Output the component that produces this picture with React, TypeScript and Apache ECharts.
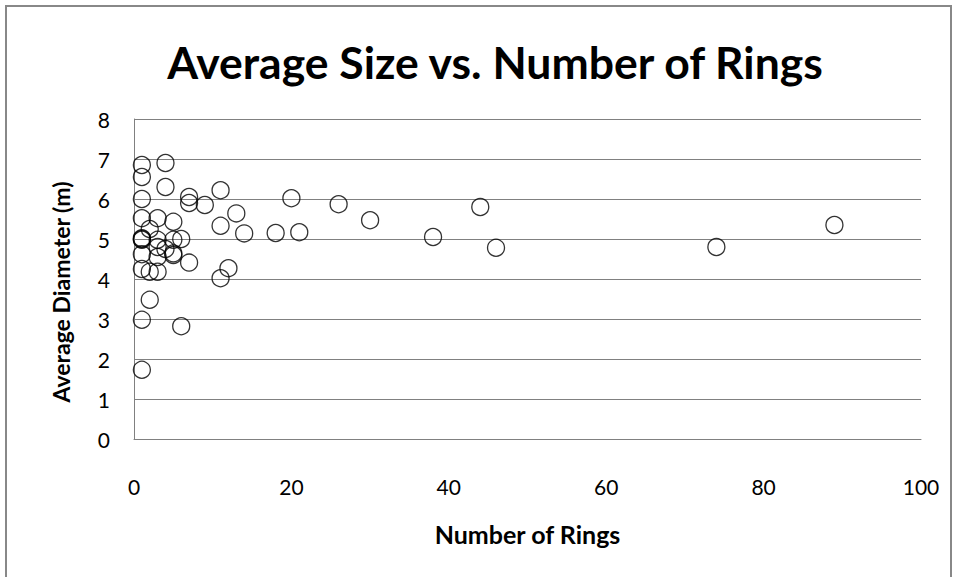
import React, { useEffect, useRef } from "react";
import * as echarts from "echarts";

const rings: number[] = [
  1, 1, 1, 1, 1, 1, 1, 1, 1, 1, 1,
  2, 2, 2,
  3, 3, 3, 3, 3,
  4, 4, 4,
  5, 5, 5, 5,
  6, 6,
  7, 7, 7,
  9,
  11, 11, 11,
  12, 13, 14, 18, 20, 21, 26, 30, 38, 44, 46, 74, 89,
];
const diameters: number[] = [
  6.85, 6.55, 6.0, 5.52, 5.02, 5.0, 4.98, 4.62, 4.25, 2.98, 1.73,
  5.25, 4.18, 3.48,
  5.52, 4.98, 4.8, 4.55, 4.18,
  6.9, 6.3, 4.75,
  5.43, 4.98, 4.64, 4.6,
  5.0, 2.82,
  6.05, 5.9, 4.41,
  5.85,
  6.22, 5.33, 4.02,
  4.27, 5.64, 5.14, 5.15, 6.02, 5.17, 5.87, 5.47, 5.05, 5.8, 4.78, 4.8, 5.35,
];
const xTicks = [0, 20, 40, 60, 80, 100];
const yTicks = [0, 1, 2, 3, 4, 5, 6, 7, 8];

const FONT = "Lato, 'Open Sans', sans-serif";

export default function App() {
  const ref = useRef<HTMLDivElement>(null);
  useEffect(() => {
    document.body.style.margin = "0";
    const chart = echarts.init(ref.current!, null, { renderer: "svg" });
    chart.setOption({
      animation: false,
      backgroundColor: "#ffffff",
      title: {
        text: "Average Size vs. Number of Rings",
        left: 490,
        top: 34,
        textAlign: "center",
        textStyle: { fontFamily: FONT, fontSize: 44.5, fontWeight: "bold", color: "#000" },
      },
      graphic: [
        {
          type: "rect",
          shape: { x: 6, y: 6, width: 945, height: 620 },
          style: { fill: "none", stroke: "#888888", lineWidth: 2 },
          silent: true,
        },
      ],
      grid: { left: 134, right: 37, top: 119, bottom: 138 },
      xAxis: {
        type: "value",
        min: xTicks[0],
        max: xTicks[xTicks.length - 1],
        interval: 20,
        name: "Number of Rings",
        nameLocation: "middle",
        nameGap: 82,
        nameTextStyle: { fontFamily: FONT, fontSize: 25, fontWeight: "bold", color: "#000" },
        axisLine: { show: true, lineStyle: { color: "#808080", width: 1 } },
        axisTick: { show: false },
        splitLine: { show: false },
        axisLabel: { fontFamily: FONT, fontSize: 21, color: "#000", margin: 37 },
      },
      yAxis: {
        type: "value",
        min: yTicks[0],
        max: yTicks[yTicks.length - 1],
        interval: 1,
        name: "Average Diameter (m)",
        nameLocation: "middle",
        nameGap: 62,
        nameTextStyle: {
          fontFamily: FONT,
          fontSize: 23,
          fontWeight: "bold",
          color: "#000",
          padding: [0, 26, 0, 0],
        },
        axisLine: { show: true, lineStyle: { color: "#808080", width: 1 } },
        axisTick: { show: false },
        splitLine: { show: true, lineStyle: { color: "#808080", width: 1 } },
        axisLabel: { fontFamily: FONT, fontSize: 21, color: "#000", margin: 24 },
      },
      series: [
        {
          type: "scatter",
          data: rings.map((r, i) => [r, diameters[i]]),
          symbol: "circle",
          symbolSize: 17,
          itemStyle: { color: "rgba(0,0,0,0)", borderColor: "#000", borderWidth: 1.3 },
        },
      ],
    });
    return () => chart.dispose();
  }, []);
  return <div ref={ref} style={{ width: 958, height: 577 }} />;
}
